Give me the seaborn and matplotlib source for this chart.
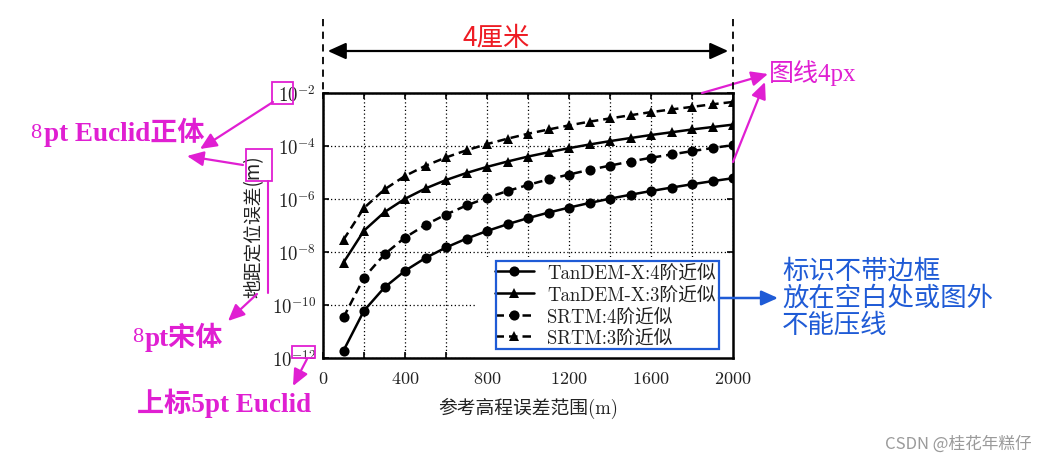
import numpy as np
import pandas as pd
import matplotlib
matplotlib.use("Agg")
import matplotlib.pyplot as plt
from matplotlib.patches import Rectangle, FancyArrowPatch
from matplotlib.ticker import FixedLocator, FuncFormatter, NullLocator
import seaborn as sns

# ---------------- data ----------------
x_vals = [100, 200, 300, 400, 500, 600, 700, 800, 900, 1000,
          1100, 1200, 1300, 1400, 1500, 1600, 1700, 1800, 1900, 2000]
tdx_4 = [1.9e-12, 6.1e-11, 4.6e-10, 1.95e-9, 5.96e-9, 1.48e-8, 3.2e-8, 6.2e-8, 1.12e-7, 1.9e-7,
         3.07e-7, 4.74e-7, 7.08e-7, 1.03e-6, 1.45e-6, 2.0e-6, 2.7e-6, 3.6e-6, 4.72e-6, 6.1e-6]
tdx_3 = [4.0e-9, 6.4e-8, 3.2e-7, 1.02e-6, 2.5e-6, 5.2e-6, 9.6e-6, 1.63e-5, 2.6e-5, 4.0e-5,
         5.8e-5, 8.3e-5, 1.14e-4, 1.53e-4, 2.0e-4, 2.6e-4, 3.3e-4, 4.2e-4, 5.2e-4, 6.4e-4]
srtm_4 = [3.4e-11, 1.08e-9, 8.2e-9, 3.5e-8, 1.06e-7, 2.6e-7, 5.7e-7, 1.11e-6, 2.0e-6, 3.4e-6,
          5.5e-6, 8.4e-6, 1.26e-5, 1.82e-5, 2.6e-5, 3.6e-5, 4.8e-5, 6.4e-5, 8.4e-5, 1.08e-4]
srtm_3 = [2.9e-8, 4.6e-7, 2.3e-6, 7.4e-6, 1.8e-5, 3.7e-5, 6.9e-5, 1.18e-4, 1.89e-4, 2.9e-4,
          4.2e-4, 6.0e-4, 8.3e-4, 1.1e-3, 1.45e-3, 1.9e-3, 2.4e-3, 3.0e-3, 3.75e-3, 4.6e-3]
series_names = ["TanDEM-X:4阶近似", "TanDEM-X:3阶近似", "SRTM:4阶近似", "SRTM:3阶近似"]
x_ticks = [0, 400, 800, 1200, 1600, 2000]
y_ticks = [1e-12, 1e-10, 1e-8, 1e-6, 1e-4, 1e-2]
x_label = "参考高程误差范围(m)"
y_label = "地距定位误差(m)"

df = pd.DataFrame({
    "x": x_vals * 4,
    "y": tdx_4 + tdx_3 + srtm_4 + srtm_3,
    "series": sum([[n] * len(x_vals) for n in series_names], []),
})

# ---------------- style ----------------
sns.set_theme(style="white")
plt.rcParams["mathtext.fontset"] = "cm"
plt.rcParams["font.family"] = ["DejaVu Sans", "Noto Sans CJK SC"]

W, H = 1048, 464
fig = plt.figure(figsize=(W / 100, H / 100), dpi=100)
fig.patch.set_facecolor("white")

def fx(px):
    return px / W

def fy(py):
    return 1 - py / H

ax_l, ax_r, ax_t, ax_b = 323, 733, 94, 359
ax = fig.add_axes([fx(ax_l), fy(ax_b), (ax_r - ax_l) / W, (ax_b - ax_t) / H])
ax.set_facecolor("white")

def axx(px):
    return (px - ax_l) / (ax_r - ax_l)

def axy(py):
    return (ax_b - py) / (ax_b - ax_t)

markers = {series_names[0]: "o", series_names[1]: "^", series_names[2]: "o", series_names[3]: "^"}
dashes = {series_names[0]: "", series_names[1]: "", series_names[2]: (3.4, 2.0), series_names[3]: (3.4, 2.0)}

sns.lineplot(data=df, x="x", y="y", hue="series", style="series",
             hue_order=series_names, style_order=series_names,
             palette=["black"] * 4, markers=markers, dashes=dashes,
             linewidth=1.8, markersize=7.3, markeredgewidth=0,
             legend=False, ax=ax, zorder=3)

ax.set_yscale("log")
ax.set_xlim(0, 2000)
ax.set_ylim(1e-12, 1e-2)

ax.xaxis.set_major_locator(FixedLocator(x_ticks))
ax.xaxis.set_minor_locator(FixedLocator(list(range(200, 2000, 400))))
ax.xaxis.set_major_formatter(FuncFormatter(lambda v, p: r"$%d$" % v))
ax.yaxis.set_major_locator(FixedLocator(y_ticks))
ax.yaxis.set_minor_locator(NullLocator())
ax.yaxis.set_major_formatter(FuncFormatter(lambda v, p: r"$10^{%d}$" % int(round(np.log10(v)))))

ax.tick_params(which="both", direction="in", top=True, right=True, bottom=True, left=True,
               length=4, width=1.2, color="black", labelsize=13, labelcolor="#222222")
ax.tick_params(axis="y", pad=5, labelsize=13.5)
ax.tick_params(axis="x", pad=8)

ax.grid(which="both", axis="x", color="black", linestyle=(0, (1, 2)), linewidth=0.9)
ax.grid(which="major", axis="y", color="black", linestyle=(0, (1, 2)), linewidth=0.9)
ax.set_axisbelow(True)

for s in ax.spines.values():
    s.set_color("black")
    s.set_linewidth(1.8)
    s.set_visible(True)

ax.set_xlabel(x_label, fontsize=13.5, family=["cmr10", "Noto Sans CJK SC"], color="#222222")
ax.set_ylabel(y_label, fontsize=13.5, family=["Noto Sans CJK SC"], color="#222222")
ax.xaxis.set_label_coords(0.5, axy(398))
ax.yaxis.set_label_coords(axx(264), 0.5)

# opaque white area behind the legend (hides the grid there)
ax.add_patch(Rectangle((axx(476), 0), 1 - axx(476), axy(258), transform=ax.transAxes,
                       facecolor="white", edgecolor="none", zorder=2.4))

leg = ax.legend(ax.lines[:4], series_names, loc="lower right",
                bbox_to_anchor=(axx(716), axy(348)),
                borderaxespad=0, borderpad=0, frameon=False,
                handlelength=2.1, handletextpad=0.7, labelspacing=0.2,
                prop={"family": ["cmr10", "Noto Sans CJK SC"], "size": 13.5})
for t in leg.get_texts():
    t.set_color("#222222")
leg.set_zorder(5)

# ---------------- annotations ----------------
MAG = "#e01fd2"
BLUE = "#1f5bd6"
RED = "#ee1c24"

# dashed width markers and double arrow
for xx in (ax_l, ax_r):
    fig.add_artist(plt.Line2D([fx(xx), fx(xx)], [fy(20), fy(94)], transform=fig.transFigure,
                              color="black", lw=1.3, linestyle=(0, (4, 3))))
fig.add_artist(FancyArrowPatch((fx(ax_l + 2), fy(52)), (fx(ax_r - 2), fy(52)),
                               transform=fig.transFigure, arrowstyle="<|-|>,head_length=11,head_width=5",
                               color="black", lw=1.6, mutation_scale=1))
fig.text(fx(496), fy(38), "4厘米", color=RED, fontsize=19, family=["Noto Sans CJK SC"],
         ha="center", va="center")

# magenta boxes
def rect(x0, y0, x1, y1, color, lw=1.3):
    fig.add_artist(Rectangle((fx(x0), fy(y1)), fx(x1) - fx(x0), fy(y0) - fy(y1),
                             transform=fig.transFigure, fill=False, edgecolor=color, lw=lw))

def arrow(x0, y0, x1, y1, color, lw=1.6, hl=10, hw=4.5):
    fig.add_artist(FancyArrowPatch((fx(x0), fy(y0)), (fx(x1), fy(y1)),
                                   transform=fig.transFigure,
                                   arrowstyle="-|>,head_length=%g,head_width=%g" % (hl, hw),
                                   color=color, lw=lw, mutation_scale=1, shrinkA=0, shrinkB=0))

rect(272, 83, 293, 105, MAG)
rect(246, 150, 272, 182, MAG)
rect(292, 347, 315, 359, MAG)
fig.add_artist(plt.Line2D([fx(268), fx(268)], [fy(182), fy(294)], transform=fig.transFigure,
                          color=MAG, lw=1.5))

arrow(273, 103, 200, 150, MAG)
arrow(243, 166, 187, 157, MAG)
arrow(257, 295, 228, 322, MAG)
arrow(307, 360, 293, 387, MAG)
arrow(702, 94, 768, 75, MAG)
arrow(733, 163, 765, 83, MAG)

serif_cjk = ["Liberation Serif", "Noto Sans CJK SC"]
fig.text(fx(30), fy(133), "8", color=MAG, fontsize=16, family=serif_cjk, ha="left", va="center")
fig.text(fx(44), fy(132), "pt Euclid正体", color=MAG, fontsize=19.5, family=serif_cjk,
         fontweight="bold", ha="left", va="center")
fig.text(fx(132), fy(338), "8", color=MAG, fontsize=16, family=serif_cjk, ha="left", va="center")
fig.text(fx(145), fy(337), "pt宋体", color=MAG, fontsize=19.5, family=serif_cjk,
         fontweight="bold", ha="left", va="center")
fig.text(fx(137), fy(403), "上标5pt Euclid", color=MAG, fontsize=19.5, family=serif_cjk,
         fontweight="bold", ha="left", va="center")
fig.text(fx(769), fy(73), "图线4px", color=MAG, fontsize=18, family=serif_cjk,
         ha="left", va="center")

# blue legend frame + note
rect(496, 262, 719, 350, BLUE, lw=1.6)
arrow(719, 299, 778, 299, BLUE, lw=1.8)
for i, line in enumerate(["标识不带边框", "放在空白处或图外", "不能压线"]):
    fig.text(fx(782), fy(271 + 27 * i), line, color=BLUE, fontsize=19,
             family=["Noto Sans CJK SC"], ha="left", va="center")

fig.text(fx(1032), fy(444), "CSDN @桂花年糕仔", color="#9a9a9a", fontsize=12,
         family=["Noto Sans CJK SC"], ha="right", va="center")

fig.savefig("out.png", dpi=100, facecolor="white")
